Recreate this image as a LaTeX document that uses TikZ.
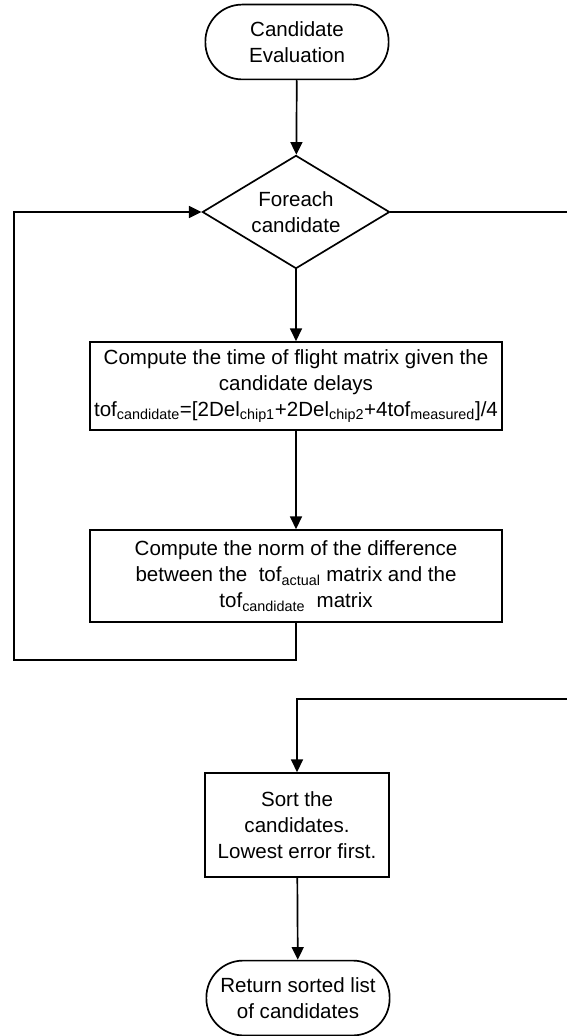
\documentclass[tikz,border=0pt]{standalone}
\usepackage{fontspec}
\setmainfont{Liberation Sans}
\usetikzlibrary{arrows.meta}
\usetikzlibrary{shapes.geometric}
\usetikzlibrary{positioning}

\tikzset{
    flow/.style={line width=1.2pt, -{Triangle[length=9pt,width=8.5pt]}},
    line/.style={line width=1.2pt},
    term/.style={draw, line width=1.2pt, rectangle, rounded corners=0.92cm,
        align=center, minimum width=4.58cm, minimum height=1.87cm, inner sep=1pt},
    decision/.style={draw, line width=1.2pt, diamond, aspect=1.65, inner sep=0pt,
        align=center, minimum width=4.68cm, minimum height=2.83cm},
    procbox/.style={draw, line width=1.2pt, rectangle, align=center, inner sep=2pt}
}

\begin{document}
\begin{tikzpicture}[x=0.025cm, y=-0.025cm,
        every node/.style={font=\fontsize{14.6}{18.6}\selectfont}]
        \useasboundingbox (0,0) rectangle (566,1036);

        % Start of the evaluation
        \node[term] (start) at (297,42) {Candidate\\Evaluation};

        % Loop over the candidates
        \node[decision] (each) at (296,212) {Foreach\\candidate};

        % Body of the loop
        \node[procbox, minimum width=10.3cm, minimum height=2.2cm] (tofbox) at (296,386)
            {Compute the time of flight matrix given the\\candidate delays\\
             tof\textsubscript{candidate}=[2Del\textsubscript{chip1}+2Del\textsubscript{chip2}+4tof\textsubscript{measured}]/4};
        \node[procbox, minimum width=10.3cm, minimum height=2.3cm] (normbox) at (296,576)
            {Compute the norm of the difference\\between the \ tof\textsubscript{actual} matrix and the\\
             tof\textsubscript{candidate} \ matrix};

        % After the loop
        \node[procbox, minimum width=4.6cm, minimum height=2.6cm] (sortbox) at (297,825)
            {Sort the\\candidates.\\Lowest error first.};
        \node[term] (finish) at (298,998) {Return sorted list\\of candidates};

        % Corners of the connectors
        \coordinate (lowleft) at (14,660);
        \coordinate (farright) at (590,699);

        % Connectors
        \draw[flow] (start) -- (each);
        \draw[flow] (each) -- (tofbox);
        \draw[flow] (tofbox) -- (normbox);
        \draw[flow] (normbox.south) |- (lowleft) |- (each.west);
        \draw[line] (each.east) -| (farright);
        \draw[flow] (farright) -| (sortbox.north);
        \draw[flow] (sortbox) -- (finish);
    \end{tikzpicture}
\end{document}
